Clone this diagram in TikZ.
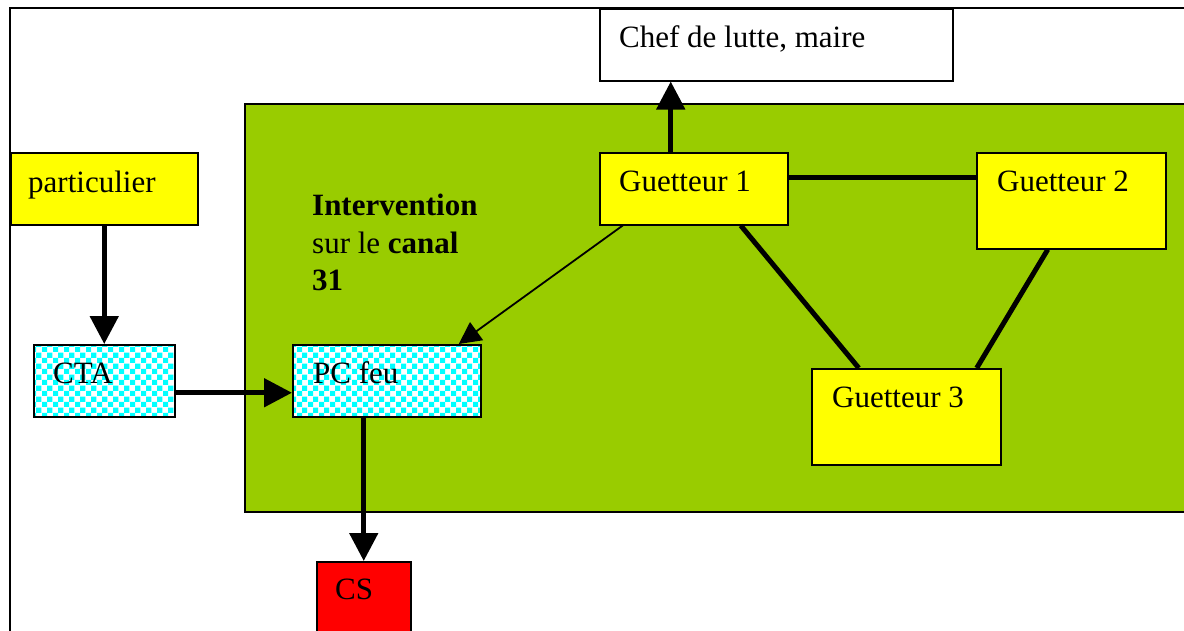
\documentclass[tikz,border=0pt]{standalone}
\usepackage{fontspec}
\setmainfont{Liberation Serif}
\usetikzlibrary{arrows.meta,patterns,calc}
\pgfdeclarepatternformonly{mycheck}{\pgfqpoint{0pt}{0pt}}{\pgfqpoint{10.6pt}{10.6pt}}{\pgfqpoint{10.6pt}{10.6pt}}{%
  \pgfpathrectangle{\pgfqpoint{0pt}{0pt}}{\pgfqpoint{5.3pt}{5.3pt}}%
  \pgfpathrectangle{\pgfqpoint{5.3pt}{5.3pt}}{\pgfqpoint{5.3pt}{5.3pt}}%
  \pgfusepath{fill}}
\definecolor{grn}{HTML}{99CC00}
\definecolor{yel}{HTML}{FFFF00}
\definecolor{cyn}{HTML}{00FFFF}
\definecolor{rd}{HTML}{FF0000}
\tikzset{
  box/.style={draw=black, line width=1.5pt, inner sep=0pt, anchor=north west},
  ybox/.style={box, fill=yel},
  cbox/.style={box, preaction={fill=white}, pattern=mycheck, pattern color=cyn},
  txt/.style={anchor=base west, inner sep=0pt, font=\fontsize{31}{37}\selectfont},
  thick arrow/.style={line width=5pt, -{Triangle[width=28pt,length=28pt]}},
  thin arrow/.style={line width=1.8pt, -{Triangle[width=22pt,length=22pt]}},
  link/.style={line width=5pt}
}
\begin{document}
\begin{tikzpicture}[x=1pt,y=-1pt]
\useasboundingbox (0,0) rectangle (1184,630);
\clip (0,0) rectangle (1184,630);
% outer frame
\draw[line width=1.5pt] (10,640) -- (10,8) -- (1200,8);
% green area
\draw[line width=1.5pt, fill=grn] (245,104) rectangle (1200,512);
% boxes
\node[box, fill=white, minimum width=353pt, minimum height=72pt] (chef) at (599,8) {};
\node[ybox, minimum width=187pt, minimum height=72pt] (part) at (10,152) {};
\node[cbox, minimum width=141pt, minimum height=72pt] (cta) at (33,344) {};
\node[cbox, minimum width=188pt, minimum height=72pt] (pc) at (292,344) {};
\node[box, fill=rd, minimum width=94pt, minimum height=90pt] (cs) at (316,561) {};
\node[ybox, minimum width=188pt, minimum height=72pt] (g1) at (599,152) {};
\node[ybox, minimum width=189pt, minimum height=96pt] (g2) at (976,152) {};
\node[ybox, minimum width=189pt, minimum height=96pt] (g3) at (811,368) {};
% texts
\node[txt] (tchef) at (619,47) {Chef de lutte, maire};
\node[txt] (tpart) at (28,192) {particulier};
\node[txt] (tcta) at (53,383) {CTA};
\node[txt] (tpc) at (313,383) {PC feu};
\node[txt] (tcs) at (335,599) {CS};
\node[txt] (tg1) at (619,191) {Guetteur 1};
\node[txt] (tg2) at (997,191) {Guetteur 2};
\node[txt] (tg3) at (832,407) {Guetteur 3};
\node[txt] (ti1) at (312,215) {\textbf{Intervention}};
\node[txt] (ti2) at (312,253) {sur le \textbf{canal}};
\node[txt] (ti3) at (312,290) {\textbf{31}};
% connectors
\draw[thick arrow] (part.south) -- (cta.north);
\draw[thick arrow] ([yshift=-12pt]cta.east) -- ([yshift=-12pt]pc.west);
\draw[thick arrow] ([xshift=-23pt]g1.north) -- ([xshift=-23pt]g1.north |- chef.south);
\draw[thick arrow] (cs.north |- pc.south) -- (cs.north);
\draw[thin arrow] ([xshift=-71pt]g1.south) -- ([xshift=72pt]pc.north);
\draw[link] ([yshift=11pt]g1.east) -- ([yshift=11pt]g1.east -| g2.west);
\draw[link] ([xshift=47pt]g1.south) -- ([xshift=-47.5pt]g3.north);
\draw[link] ([xshift=-23.5pt]g2.south) -- ([xshift=70.5pt]g3.north);
\end{tikzpicture}
\end{document}
